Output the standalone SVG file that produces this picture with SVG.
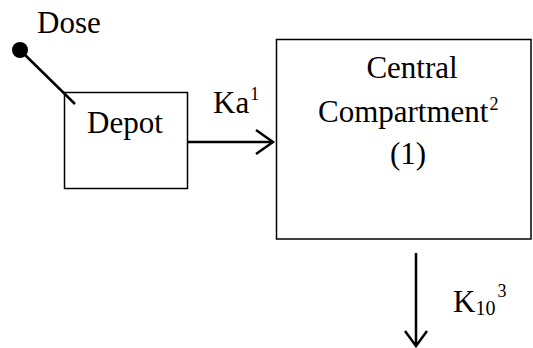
<svg xmlns="http://www.w3.org/2000/svg" width="533" height="348" viewBox="0 0 533 348">
<style>
.box{fill:#fff;stroke:#000;stroke-width:1.5}
.t{font-family:"Liberation Serif","Times New Roman",serif;font-size:31px;fill:#000}
.c{text-anchor:middle}
.ln{stroke:#000;stroke-width:2.5;fill:none}
</style>
<rect width="533" height="348" fill="#fff"/>
<g id="dose">
<circle cx="20" cy="50" r="8" fill="#000"/>
<text class="t" x="37" y="33">Dose</text>
</g>
<g id="depot">
<rect class="box" x="64.5" y="92.5" width="123" height="96"/>
<text class="t" x="87" y="133">Depot</text>
</g>
<g id="central">
<rect class="box" x="276.5" y="39.5" width="254.5" height="199.5"/>
<text class="t c" x="412" y="78">Central</text>
<text class="t" x="318" y="122">Compartment<tspan font-size="18" dx="1" dy="-12">2</tspan></text>
<text class="t c" x="408" y="164">(1)</text>
</g>
<g id="connectors">
<line class="ln" x1="20" y1="50" x2="75" y2="104"/>
<line class="ln" x1="188" y1="142" x2="273" y2="142"/>
<polyline class="ln" points="256,130 273,142 256,154"/>
<text class="t" x="213" y="113">Ka<tspan font-size="18" dx="1" dy="-13">1</tspan></text>
<line class="ln" x1="416" y1="253" x2="416" y2="346"/>
<polyline class="ln" points="405,331 416,346 427,331"/>
<text class="t" x="453" y="312">K<tspan font-size="20" dy="3">10</tspan><tspan font-size="18" dx="2" dy="-18">3</tspan></text>
</g>
</svg>
